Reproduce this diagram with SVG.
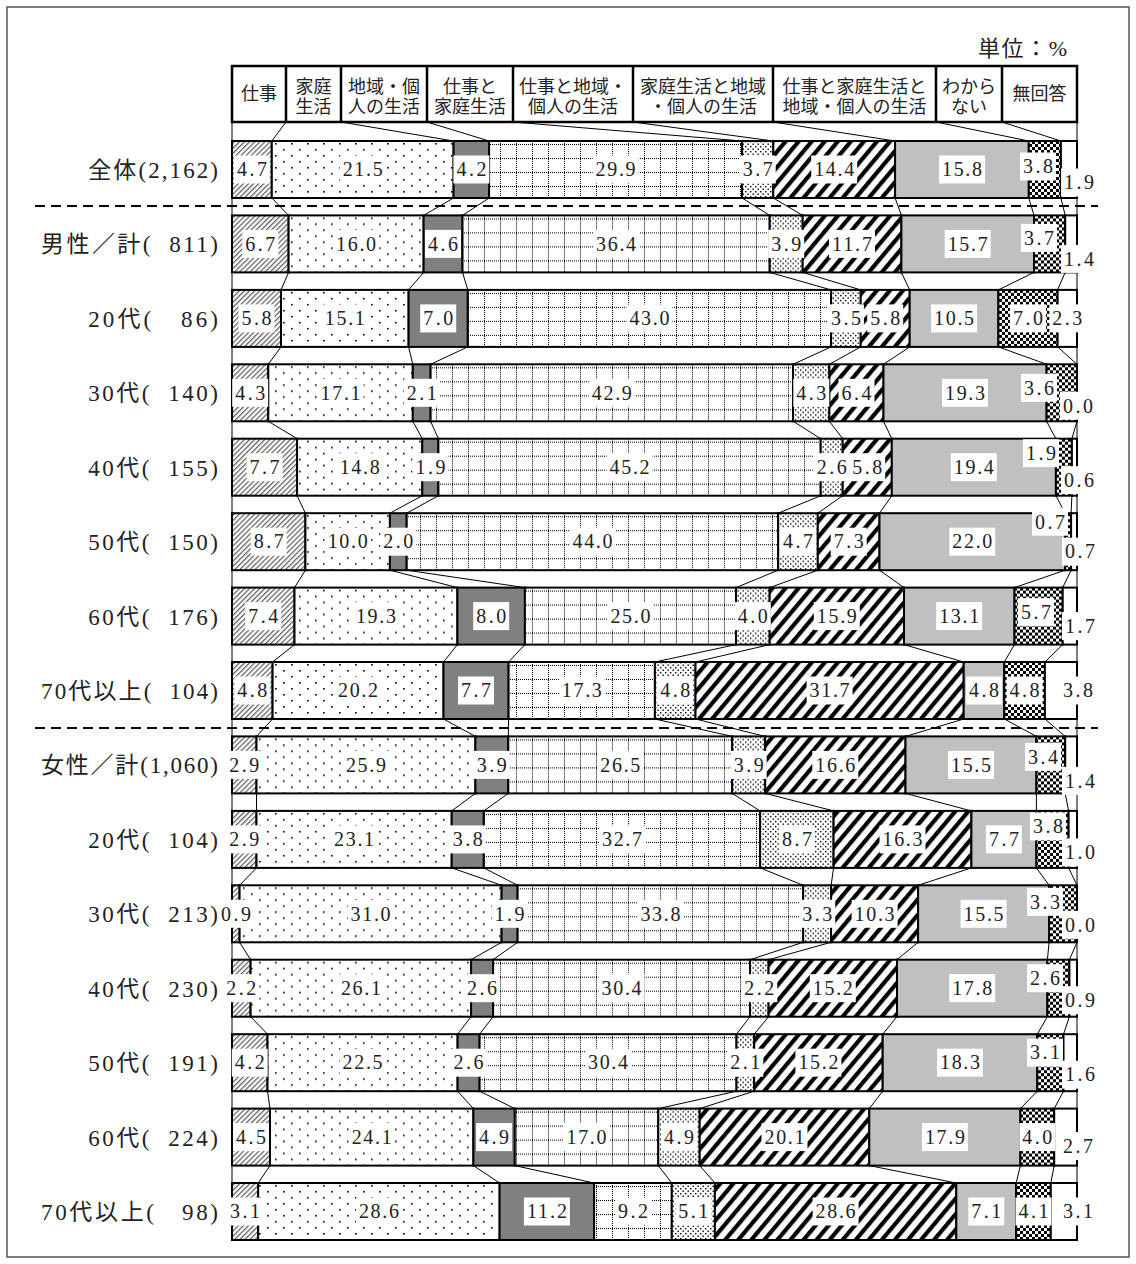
<svg xmlns="http://www.w3.org/2000/svg" width="1136" height="1264" viewBox="0 0 1136 1264">
<defs>
<pattern id="p1" width="3.6" height="4" patternUnits="userSpaceOnUse" patternTransform="rotate(45)"><rect width="3.6" height="4" fill="#fff"/><rect width="1.3" height="4" fill="#666"/></pattern>
<pattern id="p2" width="16" height="12" patternUnits="userSpaceOnUse"><rect width="16" height="12" fill="#fff"/><rect x="3" y="2" width="1.6" height="1.6" fill="#000"/><rect x="11" y="8" width="1.6" height="1.6" fill="#000"/></pattern>
<pattern id="p4" width="16" height="14" patternUnits="userSpaceOnUse"><rect width="16" height="14" fill="#fff"/><path d="M0 3.5H16" stroke="#000" stroke-width="1" stroke-dasharray="1 1"/><path d="M4.5 0V14" stroke="#000" stroke-width="1" stroke-dasharray="1 1"/></pattern>
<pattern id="p5" width="5" height="5" patternUnits="userSpaceOnUse"><rect width="5" height="5" fill="#fff"/><rect x="0" y="0" width="1.4" height="1.4" fill="#000"/><rect x="2.5" y="2.5" width="1.4" height="1.4" fill="#000"/></pattern>
<pattern id="p6" width="10" height="10" patternUnits="userSpaceOnUse" patternTransform="rotate(40)"><rect width="10" height="10" fill="#fff"/><rect width="4.2" height="10" fill="#000"/></pattern>
<pattern id="p8" width="6" height="6" patternUnits="userSpaceOnUse"><rect width="6" height="6" fill="#fff"/><rect width="3" height="3" fill="#000"/><rect x="3" y="3" width="3" height="3" fill="#000"/></pattern>
</defs>
<style>
.s{stroke:#000;stroke-width:2}
.f1{fill:url(#p1)}.f2{fill:url(#p2)}.f3{fill:#808080}.f4{fill:url(#p4)}.f5{fill:url(#p5)}.f6{fill:url(#p6)}.f7{fill:#c0c0c0}.f8{fill:url(#p8)}.f9{fill:#fff}
.lb{fill:#fff}
.v{font-family:"Liberation Serif",serif;font-size:20px;text-anchor:middle;fill:#222}
.rl{font-family:"Liberation Serif","Noto Sans CJK JP",serif;font-size:23px;text-anchor:end;fill:#222}
.hd{font-family:"Liberation Serif","Noto Sans CJK JP",sans-serif;font-size:18px;text-anchor:middle;fill:#222}
.cn{fill:none;stroke:#000;stroke-width:1}
</style>
<rect x="7" y="7" width="1122" height="1250" fill="#fff" stroke="#555" stroke-width="1.5"/>
<text class="rl" x="1067" y="56" textLength="89" style="font-size:22px">単位：%</text>
<g id="header">
<rect x="232" y="66" width="845" height="56" fill="#fff" stroke="#000" stroke-width="2.5"/>
<path d="M286 66V122M341 66V122M427 66V122M513 66V122M633 66V122M773 66V122M936 66V122M1002 66V122" stroke="#000" stroke-width="2.5"/>
<text class="hd" x="259" y="100">仕事</text>
<text class="hd" x="313.5" y="92.5">家庭</text><text class="hd" x="313.5" y="113">生活</text>
<text class="hd" x="384" y="92.5">地域・個</text><text class="hd" x="384" y="113">人の生活</text>
<text class="hd" x="470" y="92.5">仕事と</text><text class="hd" x="470" y="113">家庭生活</text>
<text class="hd" x="573" y="92.5">仕事と地域・</text><text class="hd" x="573" y="113">個人の生活</text>
<text class="hd" x="703" y="92.5">家庭生活と地域</text><text class="hd" x="703" y="113">・個人の生活</text>
<text class="hd" x="854.5" y="92.5">仕事と家庭生活と</text><text class="hd" x="854.5" y="113">地域・個人の生活</text>
<text class="hd" x="969" y="92.5">わから</text><text class="hd" x="969" y="113">ない</text>
<text class="hd" x="1039.5" y="100">無回答</text>
</g>
<g id="connectors">
<path class="cn" d="M232 122L232 141M286 122L271.8 141M341 122L453.6 141M427 122L489.1 141M513 122L742.1 141M633 122L773.3 141M773 122L895.1 141M936 122L1028.8 141M1002 122L1060.9 141M1077 122L1077 141"/>
<path class="cn" d="M232 198L232 215.4M271.8 198L288.6 215.4M453.6 198L423.6 215.4M489.1 198L462.5 215.4M742.1 198L769.7 215.4M773.3 198L802.7 215.4M895.1 198L901.4 215.4M1028.8 198L1034 215.4M1060.9 198L1065.2 215.4M1077 198L1077 215.4"/>
<path class="cn" d="M232 272.4L232 289.9M288.6 272.4L281 289.9M423.6 272.4L408.6 289.9M462.5 272.4L467.8 289.9M769.7 272.4L831.1 289.9M802.7 272.4L860.7 289.9M901.4 272.4L909.7 289.9M1034 272.4L998.4 289.9M1065.2 272.4L1057.6 289.9M1077 272.4L1077 289.9"/>
<path class="cn" d="M232 346.9L232 364.3M281 346.9L268.3 364.3M408.6 346.9L412.8 364.3M467.8 346.9L430.6 364.3M831.1 346.9L793.1 364.3M860.7 346.9L829.4 364.3M909.7 346.9L883.5 364.3M998.4 346.9L1046.6 364.3M1057.6 346.9L1077 364.3M1077 346.9L1077 364.3"/>
<path class="cn" d="M232 421.3L232 438.7M268.3 421.3L297.1 438.7M412.8 421.3L422.3 438.7M430.6 421.3L438.4 438.7M793.1 421.3L820.7 438.7M829.4 421.3L842.7 438.7M883.5 421.3L891.8 438.7M1046.6 421.3L1055.9 438.7M1077 421.3L1071.9 438.7M1077 421.3L1077 438.7"/>
<path class="cn" d="M232 495.7L232 513.2M297.1 495.7L305.4 513.2M422.3 495.7L389.9 513.2M438.4 495.7L406.7 513.2M820.7 495.7L778.2 513.2M842.7 495.7L817.8 513.2M891.8 495.7L879.5 513.2M1055.9 495.7L1065.2 513.2M1071.9 495.7L1071.1 513.2M1077 495.7L1077 513.2"/>
<path class="cn" d="M232 570.2L232 587.6M305.4 570.2L294.5 587.6M389.9 570.2L457.4 587.6M406.7 570.2L524.9 587.6M778.2 570.2L736 587.6M817.8 570.2L769.7 587.6M879.5 570.2L904 587.6M1065.2 570.2L1014.5 587.6M1071.1 570.2L1062.7 587.6M1077 570.2L1077 587.6"/>
<path class="cn" d="M232 644.6L232 662M294.5 644.6L272.6 662M457.4 644.6L443.5 662M524.9 644.6L508.6 662M736 644.6L654.9 662M769.7 644.6L695.5 662M904 644.6L963.7 662M1014.5 644.6L1004.3 662M1062.7 644.6L1044.9 662M1077 644.6L1077 662"/>
<path class="cn" d="M232 719L232 736.4M272.6 719L256.5 736.4M443.5 719L475.4 736.4M508.6 719L508.3 736.4M654.9 719L732.2 736.4M695.5 719L765.2 736.4M963.7 719L905.5 736.4M1004.3 719L1036.4 736.4M1044.9 719L1065.2 736.4M1077 719L1077 736.4"/>
<path class="cn" d="M232 793.4L232 810.9M256.5 793.4L256.5 810.9M475.4 793.4L451.7 810.9M508.3 793.4L483.8 810.9M732.2 793.4L760.1 810.9M765.2 793.4L833.6 810.9M905.5 793.4L971.4 810.9M1036.4 793.4L1036.4 810.9M1065.2 793.4L1068.6 810.9M1077 793.4L1077 810.9"/>
<path class="cn" d="M232 867.9L232 885.3M256.5 867.9L239.6 885.3M451.7 867.9L501.6 885.3M483.8 867.9L517.6 885.3M760.1 867.9L803.2 885.3M833.6 867.9L831.1 885.3M971.4 867.9L918.1 885.3M1036.4 867.9L1049.1 885.3M1068.6 867.9L1077 885.3M1077 867.9L1077 885.3"/>
<path class="cn" d="M232 942.3L232 959.7M239.6 942.3L250.6 959.7M501.6 942.3L471.1 959.7M517.6 942.3L493.1 959.7M803.2 942.3L750 959.7M831.1 942.3L768.6 959.7M918.1 942.3L897 959.7M1049.1 942.3L1047.4 959.7M1077 942.3L1069.4 959.7M1077 942.3L1077 959.7"/>
<path class="cn" d="M232 1016.7L232 1034.2M250.6 1016.7L267.5 1034.2M471.1 1016.7L457.6 1034.2M493.1 1016.7L479.6 1034.2M750 1016.7L736.5 1034.2M768.6 1016.7L754.2 1034.2M897 1016.7L882.7 1034.2M1047.4 1016.7L1037.3 1034.2M1069.4 1016.7L1063.5 1034.2M1077 1016.7L1077 1034.2"/>
<path class="cn" d="M232 1091.2L232 1108.6M267.5 1091.2L270 1108.6M457.6 1091.2L473.4 1108.6M479.6 1091.2L514.8 1108.6M736.5 1091.2L658.3 1108.6M754.2 1091.2L699.7 1108.6M882.7 1091.2L869.3 1108.6M1037.3 1091.2L1020.4 1108.6M1063.5 1091.2L1054.2 1108.6M1077 1091.2L1077 1108.6"/>
<path class="cn" d="M232 1165.6L232 1183M270 1165.6L258.2 1183M473.4 1165.6L499.6 1183M514.8 1165.6L594.1 1183M658.3 1165.6L671.8 1183M699.7 1165.6L714.9 1183M869.3 1165.6L956.3 1183M1020.4 1165.6L1016.2 1183M1054.2 1165.6L1050.8 1183M1077 1165.6L1077 1183"/>
</g>

<g id="row0" transform="translate(0,141)">
<text class="rl" x="218" y="37" textLength="129.8">全体(2,162)</text>
<rect class="s f1" x="232" y="0" width="39.8" height="57"/><rect class="s f2" x="271.8" y="0" width="181.8" height="57"/><rect class="s f3" x="453.6" y="0" width="35.5" height="57"/><rect class="s f4" x="489.1" y="0" width="253" height="57"/><rect class="s f5" x="742.1" y="0" width="31.2" height="57"/><rect class="s f6" x="773.3" y="0" width="121.8" height="57"/><rect class="s f7" x="895.1" y="0" width="133.7" height="57"/><rect class="s f8" x="1028.8" y="0" width="32.1" height="57"/><rect class="s f9" x="1060.9" y="0" width="16.1" height="57"/>
<rect class="lb" x="233.9" y="14.5" width="36" height="28"/><text class="v" x="251.9" y="35.3" textLength="30">4.7</text>
<rect class="lb" x="339.7" y="14.5" width="46" height="28"/><text class="v" x="362.7" y="35.3" textLength="40">21.5</text>
<rect class="lb" x="453.4" y="14.5" width="36" height="28"/><text class="v" x="471.4" y="35.3" textLength="30">4.2</text>
<rect class="lb" x="592.6" y="14.5" width="46" height="28"/><text class="v" x="615.6" y="35.3" textLength="40">29.9</text>
<rect class="lb" x="739.7" y="14.5" width="36" height="28"/><text class="v" x="757.7" y="35.3" textLength="30">3.7</text>
<rect class="lb" x="811.2" y="14.5" width="46" height="28"/><text class="v" x="834.2" y="35.3" textLength="40">14.4</text>
<rect class="lb" x="939" y="14.5" width="46" height="28"/><text class="v" x="962" y="35.3" textLength="40">15.8</text>
<rect class="lb" x="1020" y="11.5" width="36" height="28"/><text class="v" x="1038" y="32.3" textLength="30">3.8</text>
<rect class="lb" x="1061" y="27.5" width="36" height="28"/><text class="v" x="1079" y="48.3" textLength="30">1.9</text>
</g>

<g id="row1" transform="translate(0,215.4)">
<text class="rl" x="218" y="37" textLength="177">男性／計(&#160;&#160;811)</text>
<rect class="s f1" x="232" y="0" width="56.6" height="57"/><rect class="s f2" x="288.6" y="0" width="135" height="57"/><rect class="s f3" x="423.6" y="0" width="38.9" height="57"/><rect class="s f4" x="462.5" y="0" width="307.2" height="57"/><rect class="s f5" x="769.7" y="0" width="33" height="57"/><rect class="s f6" x="802.7" y="0" width="98.7" height="57"/><rect class="s f7" x="901.4" y="0" width="132.6" height="57"/><rect class="s f8" x="1034" y="0" width="31.2" height="57"/><rect class="s f9" x="1065.2" y="0" width="11.8" height="57"/>
<rect class="lb" x="242.3" y="14.5" width="36" height="28"/><text class="v" x="260.3" y="35.3" textLength="30">6.7</text>
<rect class="lb" x="333.1" y="14.5" width="46" height="28"/><text class="v" x="356.1" y="35.3" textLength="40">16.0</text>
<rect class="lb" x="425" y="14.5" width="36" height="28"/><text class="v" x="443" y="35.3" textLength="30">4.6</text>
<rect class="lb" x="593.1" y="14.5" width="46" height="28"/><text class="v" x="616.1" y="35.3" textLength="40">36.4</text>
<rect class="lb" x="768.2" y="14.5" width="36" height="28"/><text class="v" x="786.2" y="35.3" textLength="30">3.9</text>
<rect class="lb" x="829" y="14.5" width="46" height="28"/><text class="v" x="852" y="35.3" textLength="40">11.7</text>
<rect class="lb" x="944.7" y="14.5" width="46" height="28"/><text class="v" x="967.7" y="35.3" textLength="40">15.7</text>
<rect class="lb" x="1021" y="8.5" width="36" height="28"/><text class="v" x="1039" y="29.3" textLength="30">3.7</text>
<rect class="lb" x="1061" y="29.5" width="36" height="28"/><text class="v" x="1079" y="50.3" textLength="30">1.4</text>
</g>

<g id="row2" transform="translate(0,289.9)">
<text class="rl" x="218" y="37" textLength="129.8">20代(&#160;&#160;&#160;86)</text>
<rect class="s f1" x="232" y="0" width="49" height="57"/><rect class="s f2" x="281" y="0" width="127.6" height="57"/><rect class="s f3" x="408.6" y="0" width="59.2" height="57"/><rect class="s f4" x="467.8" y="0" width="363.3" height="57"/><rect class="s f5" x="831.1" y="0" width="29.6" height="57"/><rect class="s f6" x="860.7" y="0" width="49" height="57"/><rect class="s f7" x="909.7" y="0" width="88.7" height="57"/><rect class="s f8" x="998.4" y="0" width="59.2" height="57"/><rect class="s f9" x="1057.6" y="0" width="19.4" height="57"/>
<rect class="lb" x="238.5" y="14.5" width="36" height="28"/><text class="v" x="256.5" y="35.3" textLength="30">5.8</text>
<rect class="lb" x="321.8" y="14.5" width="46" height="28"/><text class="v" x="344.8" y="35.3" textLength="40">15.1</text>
<rect class="lb" x="420.2" y="14.5" width="36" height="28"/><text class="v" x="438.2" y="35.3" textLength="30">7.0</text>
<rect class="lb" x="626.4" y="14.5" width="46" height="28"/><text class="v" x="649.4" y="35.3" textLength="40">43.0</text>
<rect class="lb" x="827.9" y="14.5" width="36" height="28"/><text class="v" x="845.9" y="35.3" textLength="30">3.5</text>
<rect class="lb" x="867.2" y="14.5" width="36" height="28"/><text class="v" x="885.2" y="35.3" textLength="30">5.8</text>
<rect class="lb" x="931.1" y="14.5" width="46" height="28"/><text class="v" x="954.1" y="35.3" textLength="40">10.5</text>
<rect class="lb" x="1010" y="14.5" width="36" height="28"/><text class="v" x="1028" y="35.3" textLength="30">7.0</text>
<rect class="lb" x="1049.3" y="14.5" width="36" height="28"/><text class="v" x="1067.3" y="35.3" textLength="30">2.3</text>
</g>

<g id="row3" transform="translate(0,364.3)">
<text class="rl" x="218" y="37" textLength="129.8">30代(&#160;&#160;140)</text>
<rect class="s f1" x="232" y="0" width="36.3" height="57"/><rect class="s f2" x="268.3" y="0" width="144.5" height="57"/><rect class="s f3" x="412.8" y="0" width="17.8" height="57"/><rect class="s f4" x="430.6" y="0" width="362.5" height="57"/><rect class="s f5" x="793.1" y="0" width="36.3" height="57"/><rect class="s f6" x="829.4" y="0" width="54.1" height="57"/><rect class="s f7" x="883.5" y="0" width="163.1" height="57"/><rect class="s f8" x="1046.6" y="0" width="30.4" height="57"/>
<rect class="lb" x="232.2" y="14.5" width="36" height="28"/><text class="v" x="250.2" y="35.3" textLength="30">4.3</text>
<rect class="lb" x="317.6" y="14.5" width="46" height="28"/><text class="v" x="340.6" y="35.3" textLength="40">17.1</text>
<rect class="lb" x="403.7" y="14.5" width="36" height="28"/><text class="v" x="421.7" y="35.3" textLength="30">2.1</text>
<rect class="lb" x="588.8" y="14.5" width="46" height="28"/><text class="v" x="611.8" y="35.3" textLength="40">42.9</text>
<rect class="lb" x="793.3" y="14.5" width="36" height="28"/><text class="v" x="811.3" y="35.3" textLength="30">4.3</text>
<rect class="lb" x="838.5" y="14.5" width="36" height="28"/><text class="v" x="856.5" y="35.3" textLength="30">6.4</text>
<rect class="lb" x="942" y="14.5" width="46" height="28"/><text class="v" x="965" y="35.3" textLength="40">19.3</text>
<rect class="lb" x="1021" y="9.5" width="36" height="28"/><text class="v" x="1039" y="30.3" textLength="30">3.6</text>
<rect class="lb" x="1060" y="27.5" width="36" height="28"/><text class="v" x="1078" y="48.3" textLength="30">0.0</text>
</g>

<g id="row4" transform="translate(0,438.7)">
<text class="rl" x="218" y="37" textLength="129.8">40代(&#160;&#160;155)</text>
<rect class="s f1" x="232" y="0" width="65.1" height="57"/><rect class="s f2" x="297.1" y="0" width="125.2" height="57"/><rect class="s f3" x="422.3" y="0" width="16.1" height="57"/><rect class="s f4" x="438.4" y="0" width="382.3" height="57"/><rect class="s f5" x="820.7" y="0" width="22" height="57"/><rect class="s f6" x="842.7" y="0" width="49.1" height="57"/><rect class="s f7" x="891.8" y="0" width="164.1" height="57"/><rect class="s f8" x="1055.9" y="0" width="16" height="57"/><rect class="s f9" x="1071.9" y="0" width="5.1" height="57"/>
<rect class="lb" x="246.6" y="14.5" width="36" height="28"/><text class="v" x="264.6" y="35.3" textLength="30">7.7</text>
<rect class="lb" x="336.7" y="14.5" width="46" height="28"/><text class="v" x="359.7" y="35.3" textLength="40">14.8</text>
<rect class="lb" x="412.4" y="14.5" width="36" height="28"/><text class="v" x="430.4" y="35.3" textLength="30">1.9</text>
<rect class="lb" x="606.6" y="14.5" width="46" height="28"/><text class="v" x="629.6" y="35.3" textLength="40">45.2</text>
<rect class="lb" x="813.7" y="14.5" width="36" height="28"/><text class="v" x="831.7" y="35.3" textLength="30">2.6</text>
<rect class="lb" x="849.2" y="14.5" width="36" height="28"/><text class="v" x="867.2" y="35.3" textLength="30">5.8</text>
<rect class="lb" x="950.8" y="14.5" width="46" height="28"/><text class="v" x="973.8" y="35.3" textLength="40">19.4</text>
<rect class="lb" x="1023" y="0.5" width="36" height="28"/><text class="v" x="1041" y="21.3" textLength="30">1.9</text>
<rect class="lb" x="1061" y="27.5" width="36" height="28"/><text class="v" x="1079" y="48.3" textLength="30">0.6</text>
</g>

<g id="row5" transform="translate(0,513.2)">
<text class="rl" x="218" y="37" textLength="129.8">50代(&#160;&#160;150)</text>
<rect class="s f1" x="232" y="0" width="73.4" height="57"/><rect class="s f2" x="305.4" y="0" width="84.5" height="57"/><rect class="s f3" x="389.9" y="0" width="16.8" height="57"/><rect class="s f4" x="406.7" y="0" width="371.5" height="57"/><rect class="s f5" x="778.2" y="0" width="39.6" height="57"/><rect class="s f6" x="817.8" y="0" width="61.7" height="57"/><rect class="s f7" x="879.5" y="0" width="185.7" height="57"/><rect class="s f8" x="1065.2" y="0" width="5.9" height="57"/><rect class="s f9" x="1071.1" y="0" width="5.9" height="57"/>
<rect class="lb" x="250.7" y="14.5" width="36" height="28"/><text class="v" x="268.7" y="35.3" textLength="30">8.7</text>
<rect class="lb" x="324.7" y="14.5" width="46" height="28"/><text class="v" x="347.7" y="35.3" textLength="40">10.0</text>
<rect class="lb" x="380.3" y="14.5" width="36" height="28"/><text class="v" x="398.3" y="35.3" textLength="30">2.0</text>
<rect class="lb" x="569.5" y="14.5" width="46" height="28"/><text class="v" x="592.5" y="35.3" textLength="40">44.0</text>
<rect class="lb" x="780" y="14.5" width="36" height="28"/><text class="v" x="798" y="35.3" textLength="30">4.7</text>
<rect class="lb" x="830.7" y="14.5" width="36" height="28"/><text class="v" x="848.7" y="35.3" textLength="30">7.3</text>
<rect class="lb" x="949.3" y="14.5" width="46" height="28"/><text class="v" x="972.3" y="35.3" textLength="40">22.0</text>
<rect class="lb" x="1032" y="-5.5" width="36" height="28"/><text class="v" x="1050" y="15.3" textLength="30">0.7</text>
<rect class="lb" x="1062" y="24.5" width="36" height="28"/><text class="v" x="1080" y="45.3" textLength="30">0.7</text>
</g>

<g id="row6" transform="translate(0,587.6)">
<text class="rl" x="218" y="37" textLength="129.8">60代(&#160;&#160;176)</text>
<rect class="s f1" x="232" y="0" width="62.5" height="57"/><rect class="s f2" x="294.5" y="0" width="162.9" height="57"/><rect class="s f3" x="457.4" y="0" width="67.5" height="57"/><rect class="s f4" x="524.9" y="0" width="211.1" height="57"/><rect class="s f5" x="736" y="0" width="33.7" height="57"/><rect class="s f6" x="769.7" y="0" width="134.3" height="57"/><rect class="s f7" x="904" y="0" width="110.5" height="57"/><rect class="s f8" x="1014.5" y="0" width="48.2" height="57"/><rect class="s f9" x="1062.7" y="0" width="14.3" height="57"/>
<rect class="lb" x="245.2" y="14.5" width="36" height="28"/><text class="v" x="263.2" y="35.3" textLength="30">7.4</text>
<rect class="lb" x="352.9" y="14.5" width="46" height="28"/><text class="v" x="375.9" y="35.3" textLength="40">19.3</text>
<rect class="lb" x="473.2" y="14.5" width="36" height="28"/><text class="v" x="491.2" y="35.3" textLength="30">8.0</text>
<rect class="lb" x="607.4" y="14.5" width="46" height="28"/><text class="v" x="630.4" y="35.3" textLength="40">25.0</text>
<rect class="lb" x="734.8" y="14.5" width="36" height="28"/><text class="v" x="752.8" y="35.3" textLength="30">4.0</text>
<rect class="lb" x="813.8" y="14.5" width="46" height="28"/><text class="v" x="836.8" y="35.3" textLength="40">15.9</text>
<rect class="lb" x="936.2" y="14.5" width="46" height="28"/><text class="v" x="959.2" y="35.3" textLength="40">13.1</text>
<rect class="lb" x="1018" y="10.5" width="36" height="28"/><text class="v" x="1036" y="31.3" textLength="30">5.7</text>
<rect class="lb" x="1062" y="24.5" width="36" height="28"/><text class="v" x="1080" y="45.3" textLength="30">1.7</text>
</g>

<g id="row7" transform="translate(0,662)">
<text class="rl" x="218" y="37" textLength="177">70代以上(&#160;&#160;104)</text>
<rect class="s f1" x="232" y="0" width="40.6" height="57"/><rect class="s f2" x="272.6" y="0" width="170.9" height="57"/><rect class="s f3" x="443.5" y="0" width="65.1" height="57"/><rect class="s f4" x="508.6" y="0" width="146.3" height="57"/><rect class="s f5" x="654.9" y="0" width="40.6" height="57"/><rect class="s f6" x="695.5" y="0" width="268.2" height="57"/><rect class="s f7" x="963.7" y="0" width="40.6" height="57"/><rect class="s f8" x="1004.3" y="0" width="40.6" height="57"/><rect class="s f9" x="1044.9" y="0" width="32.1" height="57"/>
<rect class="lb" x="234.3" y="14.5" width="36" height="28"/><text class="v" x="252.3" y="35.3" textLength="30">4.8</text>
<rect class="lb" x="335" y="14.5" width="46" height="28"/><text class="v" x="358" y="35.3" textLength="40">20.2</text>
<rect class="lb" x="458" y="14.5" width="36" height="28"/><text class="v" x="476" y="35.3" textLength="30">7.7</text>
<rect class="lb" x="558.8" y="14.5" width="46" height="28"/><text class="v" x="581.8" y="35.3" textLength="40">17.3</text>
<rect class="lb" x="657.2" y="14.5" width="36" height="28"/><text class="v" x="675.2" y="35.3" textLength="30">4.8</text>
<rect class="lb" x="806.6" y="14.5" width="46" height="28"/><text class="v" x="829.6" y="35.3" textLength="40">31.7</text>
<rect class="lb" x="966" y="14.5" width="36" height="28"/><text class="v" x="984" y="35.3" textLength="30">4.8</text>
<rect class="lb" x="1006.6" y="14.5" width="36" height="28"/><text class="v" x="1024.6" y="35.3" textLength="30">4.8</text>
<rect class="lb" x="1060" y="14.5" width="36" height="28"/><text class="v" x="1078" y="35.3" textLength="30">3.8</text>
</g>

<g id="row8" transform="translate(0,736.4)">
<text class="rl" x="218" y="37" textLength="177">女性／計(1,060)</text>
<rect class="s f1" x="232" y="0" width="24.5" height="57"/><rect class="s f2" x="256.5" y="0" width="218.9" height="57"/><rect class="s f3" x="475.4" y="0" width="32.9" height="57"/><rect class="s f4" x="508.3" y="0" width="223.9" height="57"/><rect class="s f5" x="732.2" y="0" width="33" height="57"/><rect class="s f6" x="765.2" y="0" width="140.3" height="57"/><rect class="s f7" x="905.5" y="0" width="130.9" height="57"/><rect class="s f8" x="1036.4" y="0" width="28.8" height="57"/><rect class="s f9" x="1065.2" y="0" width="11.8" height="57"/>
<rect class="lb" x="226.3" y="14.5" width="36" height="28"/><text class="v" x="244.3" y="35.3" textLength="30">2.9</text>
<rect class="lb" x="342.9" y="14.5" width="46" height="28"/><text class="v" x="365.9" y="35.3" textLength="40">25.9</text>
<rect class="lb" x="473.8" y="14.5" width="36" height="28"/><text class="v" x="491.8" y="35.3" textLength="30">3.9</text>
<rect class="lb" x="597.3" y="14.5" width="46" height="28"/><text class="v" x="620.3" y="35.3" textLength="40">26.5</text>
<rect class="lb" x="730.7" y="14.5" width="36" height="28"/><text class="v" x="748.7" y="35.3" textLength="30">3.9</text>
<rect class="lb" x="812.3" y="14.5" width="46" height="28"/><text class="v" x="835.3" y="35.3" textLength="40">16.6</text>
<rect class="lb" x="948" y="14.5" width="46" height="28"/><text class="v" x="971" y="35.3" textLength="40">15.5</text>
<rect class="lb" x="1025" y="6.5" width="36" height="28"/><text class="v" x="1043" y="27.3" textLength="30">3.4</text>
<rect class="lb" x="1062" y="30.5" width="36" height="28"/><text class="v" x="1080" y="51.3" textLength="30">1.4</text>
</g>

<g id="row9" transform="translate(0,810.9)">
<text class="rl" x="218" y="37" textLength="129.8">20代(&#160;&#160;104)</text>
<rect class="s f1" x="232" y="0" width="24.5" height="57"/><rect class="s f2" x="256.5" y="0" width="195.2" height="57"/><rect class="s f3" x="451.7" y="0" width="32.1" height="57"/><rect class="s f4" x="483.8" y="0" width="276.3" height="57"/><rect class="s f5" x="760.1" y="0" width="73.5" height="57"/><rect class="s f6" x="833.6" y="0" width="137.8" height="57"/><rect class="s f7" x="971.4" y="0" width="65" height="57"/><rect class="s f8" x="1036.4" y="0" width="32.2" height="57"/><rect class="s f9" x="1068.6" y="0" width="8.4" height="57"/>
<rect class="lb" x="226.3" y="14.5" width="36" height="28"/><text class="v" x="244.3" y="35.3" textLength="30">2.9</text>
<rect class="lb" x="331.1" y="14.5" width="46" height="28"/><text class="v" x="354.1" y="35.3" textLength="40">23.1</text>
<rect class="lb" x="449.8" y="14.5" width="36" height="28"/><text class="v" x="467.8" y="35.3" textLength="30">3.8</text>
<rect class="lb" x="599" y="14.5" width="46" height="28"/><text class="v" x="622" y="35.3" textLength="40">32.7</text>
<rect class="lb" x="778.9" y="14.5" width="36" height="28"/><text class="v" x="796.9" y="35.3" textLength="30">8.7</text>
<rect class="lb" x="879.5" y="14.5" width="46" height="28"/><text class="v" x="902.5" y="35.3" textLength="40">16.3</text>
<rect class="lb" x="985.9" y="14.5" width="36" height="28"/><text class="v" x="1003.9" y="35.3" textLength="30">7.7</text>
<rect class="lb" x="1030" y="1.5" width="36" height="28"/><text class="v" x="1048" y="22.3" textLength="30">3.8</text>
<rect class="lb" x="1062" y="27.5" width="36" height="28"/><text class="v" x="1080" y="48.3" textLength="30">1.0</text>
</g>

<g id="row10" transform="translate(0,885.3)">
<text class="rl" x="218" y="37" textLength="129.8">30代(&#160;&#160;213)</text>
<rect class="s f1" x="232" y="0" width="7.6" height="57"/><rect class="s f2" x="239.6" y="0" width="262" height="57"/><rect class="s f3" x="501.6" y="0" width="16" height="57"/><rect class="s f4" x="517.6" y="0" width="285.6" height="57"/><rect class="s f5" x="803.2" y="0" width="27.9" height="57"/><rect class="s f6" x="831.1" y="0" width="87" height="57"/><rect class="s f7" x="918.1" y="0" width="131" height="57"/><rect class="s f8" x="1049.1" y="0" width="27.9" height="57"/>
<rect class="lb" x="218" y="14.5" width="36" height="28"/><text class="v" x="236" y="35.3" textLength="30">0.9</text>
<rect class="lb" x="347.6" y="14.5" width="46" height="28"/><text class="v" x="370.6" y="35.3" textLength="40">31.0</text>
<rect class="lb" x="491.6" y="14.5" width="36" height="28"/><text class="v" x="509.6" y="35.3" textLength="30">1.9</text>
<rect class="lb" x="637.4" y="14.5" width="46" height="28"/><text class="v" x="660.4" y="35.3" textLength="40">33.8</text>
<rect class="lb" x="799.2" y="14.5" width="36" height="28"/><text class="v" x="817.2" y="35.3" textLength="30">3.3</text>
<rect class="lb" x="851.6" y="14.5" width="46" height="28"/><text class="v" x="874.6" y="35.3" textLength="40">10.3</text>
<rect class="lb" x="960.6" y="14.5" width="46" height="28"/><text class="v" x="983.6" y="35.3" textLength="40">15.5</text>
<rect class="lb" x="1027" y="2.5" width="36" height="28"/><text class="v" x="1045" y="23.3" textLength="30">3.3</text>
<rect class="lb" x="1062" y="25.5" width="36" height="28"/><text class="v" x="1080" y="46.3" textLength="30">0.0</text>
</g>

<g id="row11" transform="translate(0,959.7)">
<text class="rl" x="218" y="37" textLength="129.8">40代(&#160;&#160;230)</text>
<rect class="s f1" x="232" y="0" width="18.6" height="57"/><rect class="s f2" x="250.6" y="0" width="220.5" height="57"/><rect class="s f3" x="471.1" y="0" width="22" height="57"/><rect class="s f4" x="493.1" y="0" width="256.9" height="57"/><rect class="s f5" x="750" y="0" width="18.6" height="57"/><rect class="s f6" x="768.6" y="0" width="128.4" height="57"/><rect class="s f7" x="897" y="0" width="150.4" height="57"/><rect class="s f8" x="1047.4" y="0" width="22" height="57"/><rect class="s f9" x="1069.4" y="0" width="7.6" height="57"/>
<rect class="lb" x="223.3" y="14.5" width="36" height="28"/><text class="v" x="241.3" y="35.3" textLength="30">2.2</text>
<rect class="lb" x="337.9" y="14.5" width="46" height="28"/><text class="v" x="360.9" y="35.3" textLength="40">26.1</text>
<rect class="lb" x="464.1" y="14.5" width="36" height="28"/><text class="v" x="482.1" y="35.3" textLength="30">2.6</text>
<rect class="lb" x="598.6" y="14.5" width="46" height="28"/><text class="v" x="621.6" y="35.3" textLength="40">30.4</text>
<rect class="lb" x="741.3" y="14.5" width="36" height="28"/><text class="v" x="759.3" y="35.3" textLength="30">2.2</text>
<rect class="lb" x="809.8" y="14.5" width="46" height="28"/><text class="v" x="832.8" y="35.3" textLength="40">15.2</text>
<rect class="lb" x="949.2" y="14.5" width="46" height="28"/><text class="v" x="972.2" y="35.3" textLength="40">17.8</text>
<rect class="lb" x="1027" y="4.5" width="36" height="28"/><text class="v" x="1045" y="25.3" textLength="30">2.6</text>
<rect class="lb" x="1062" y="26.5" width="36" height="28"/><text class="v" x="1080" y="47.3" textLength="30">0.9</text>
</g>

<g id="row12" transform="translate(0,1034.2)">
<text class="rl" x="218" y="37" textLength="129.8">50代(&#160;&#160;191)</text>
<rect class="s f1" x="232" y="0" width="35.5" height="57"/><rect class="s f2" x="267.5" y="0" width="190.1" height="57"/><rect class="s f3" x="457.6" y="0" width="22" height="57"/><rect class="s f4" x="479.6" y="0" width="256.9" height="57"/><rect class="s f5" x="736.5" y="0" width="17.7" height="57"/><rect class="s f6" x="754.2" y="0" width="128.5" height="57"/><rect class="s f7" x="882.7" y="0" width="154.6" height="57"/><rect class="s f8" x="1037.3" y="0" width="26.2" height="57"/><rect class="s f9" x="1063.5" y="0" width="13.5" height="57"/>
<rect class="lb" x="231.7" y="14.5" width="36" height="28"/><text class="v" x="249.7" y="35.3" textLength="30">4.2</text>
<rect class="lb" x="339.6" y="14.5" width="46" height="28"/><text class="v" x="362.6" y="35.3" textLength="40">22.5</text>
<rect class="lb" x="450.6" y="14.5" width="36" height="28"/><text class="v" x="468.6" y="35.3" textLength="30">2.6</text>
<rect class="lb" x="585" y="14.5" width="46" height="28"/><text class="v" x="608" y="35.3" textLength="40">30.4</text>
<rect class="lb" x="727.3" y="14.5" width="36" height="28"/><text class="v" x="745.3" y="35.3" textLength="30">2.1</text>
<rect class="lb" x="795.4" y="14.5" width="46" height="28"/><text class="v" x="818.4" y="35.3" textLength="40">15.2</text>
<rect class="lb" x="937" y="14.5" width="46" height="28"/><text class="v" x="960" y="35.3" textLength="40">18.3</text>
<rect class="lb" x="1027" y="4.5" width="36" height="28"/><text class="v" x="1045" y="25.3" textLength="30">3.1</text>
<rect class="lb" x="1062" y="26.5" width="36" height="28"/><text class="v" x="1080" y="47.3" textLength="30">1.6</text>
</g>

<g id="row13" transform="translate(0,1108.6)">
<text class="rl" x="218" y="37" textLength="129.8">60代(&#160;&#160;224)</text>
<rect class="s f1" x="232" y="0" width="38" height="57"/><rect class="s f2" x="270" y="0" width="203.4" height="57"/><rect class="s f3" x="473.4" y="0" width="41.4" height="57"/><rect class="s f4" x="514.8" y="0" width="143.5" height="57"/><rect class="s f5" x="658.3" y="0" width="41.4" height="57"/><rect class="s f6" x="699.7" y="0" width="169.6" height="57"/><rect class="s f7" x="869.3" y="0" width="151.1" height="57"/><rect class="s f8" x="1020.4" y="0" width="33.8" height="57"/><rect class="s f9" x="1054.2" y="0" width="22.8" height="57"/>
<rect class="lb" x="233" y="14.5" width="36" height="28"/><text class="v" x="251" y="35.3" textLength="30">4.5</text>
<rect class="lb" x="348.7" y="14.5" width="46" height="28"/><text class="v" x="371.7" y="35.3" textLength="40">24.1</text>
<rect class="lb" x="476.1" y="14.5" width="36" height="28"/><text class="v" x="494.1" y="35.3" textLength="30">4.9</text>
<rect class="lb" x="563.5" y="14.5" width="46" height="28"/><text class="v" x="586.5" y="35.3" textLength="40">17.0</text>
<rect class="lb" x="661" y="14.5" width="36" height="28"/><text class="v" x="679" y="35.3" textLength="30">4.9</text>
<rect class="lb" x="761.5" y="14.5" width="46" height="28"/><text class="v" x="784.5" y="35.3" textLength="40">20.1</text>
<rect class="lb" x="921.9" y="14.5" width="46" height="28"/><text class="v" x="944.9" y="35.3" textLength="40">17.9</text>
<rect class="lb" x="1019.3" y="14.5" width="36" height="28"/><text class="v" x="1037.3" y="35.3" textLength="30">4.0</text>
<rect class="lb" x="1060" y="23.5" width="36" height="28"/><text class="v" x="1078" y="44.3" textLength="30">2.7</text>
</g>

<g id="row14" transform="translate(0,1183)">
<text class="rl" x="218" y="37" textLength="177">70代以上(&#160;&#160;&#160;98)</text>
<rect class="s f1" x="232" y="0" width="26.2" height="57"/><rect class="s f2" x="258.2" y="0" width="241.4" height="57"/><rect class="s f3" x="499.6" y="0" width="94.5" height="57"/><rect class="s f4" x="594.1" y="0" width="77.7" height="57"/><rect class="s f5" x="671.8" y="0" width="43.1" height="57"/><rect class="s f6" x="714.9" y="0" width="241.4" height="57"/><rect class="s f7" x="956.3" y="0" width="59.9" height="57"/><rect class="s f8" x="1016.2" y="0" width="34.6" height="57"/><rect class="s f9" x="1050.8" y="0" width="26.2" height="57"/>
<rect class="lb" x="227.1" y="14.5" width="36" height="28"/><text class="v" x="245.1" y="35.3" textLength="30">3.1</text>
<rect class="lb" x="355.9" y="14.5" width="46" height="28"/><text class="v" x="378.9" y="35.3" textLength="40">28.6</text>
<rect class="lb" x="523.9" y="14.5" width="46" height="28"/><text class="v" x="546.9" y="35.3" textLength="40">11.2</text>
<rect class="lb" x="615" y="14.5" width="36" height="28"/><text class="v" x="633" y="35.3" textLength="30">9.2</text>
<rect class="lb" x="675.3" y="14.5" width="36" height="28"/><text class="v" x="693.3" y="35.3" textLength="30">5.1</text>
<rect class="lb" x="812.6" y="14.5" width="46" height="28"/><text class="v" x="835.6" y="35.3" textLength="40">28.6</text>
<rect class="lb" x="968.3" y="14.5" width="36" height="28"/><text class="v" x="986.3" y="35.3" textLength="30">7.1</text>
<rect class="lb" x="1015.5" y="14.5" width="36" height="28"/><text class="v" x="1033.5" y="35.3" textLength="30">4.1</text>
<rect class="lb" x="1060" y="14.5" width="36" height="28"/><text class="v" x="1078" y="35.3" textLength="30">3.1</text>
</g>

<path d="M35 206H1098M35 728H1098" fill="none" stroke="#000" stroke-width="2" stroke-dasharray="10 6"/>
</svg>
